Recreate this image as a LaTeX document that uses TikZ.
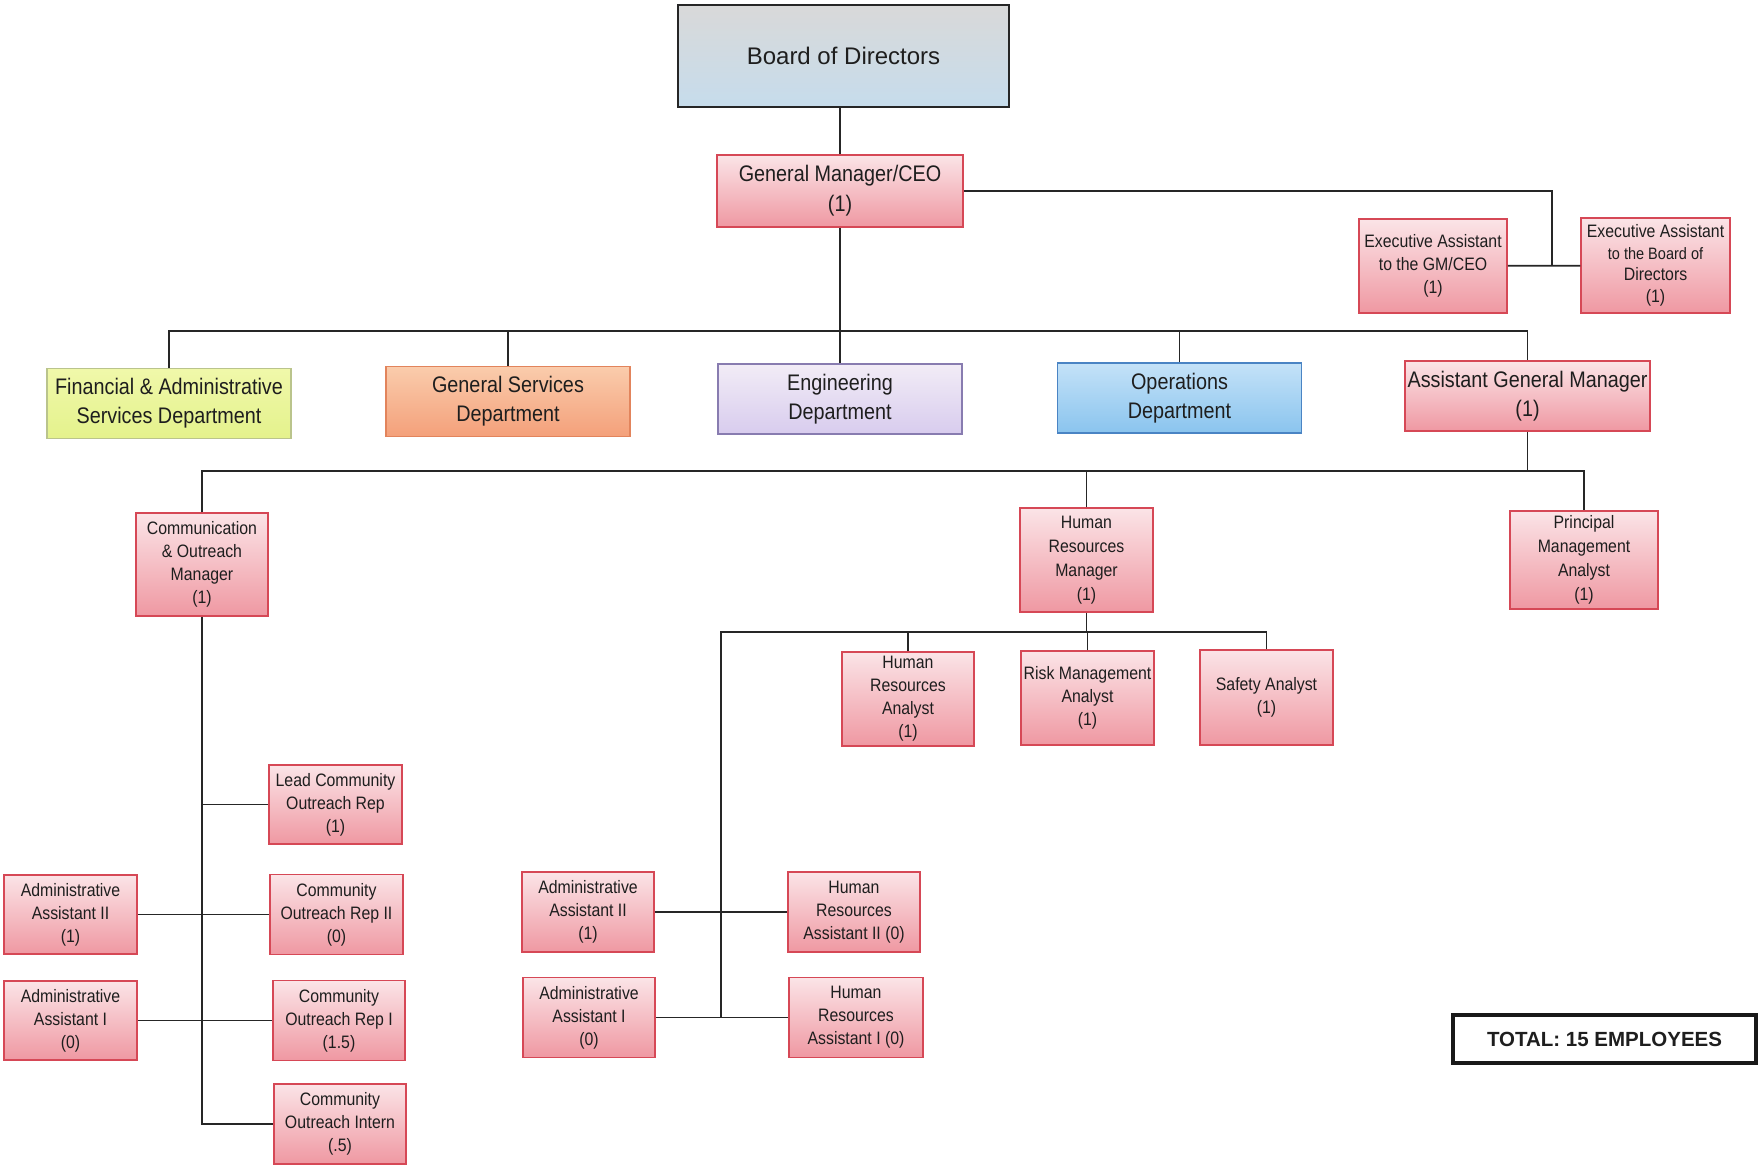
\documentclass[tikz,border=0pt]{standalone}
\usepackage{fontspec}
\setmainfont{Liberation Sans}[FakeStretch=0.88]
\newfontfamily\widefont{Liberation Sans}
\definecolor{boxtop}{RGB}{251,228,231}
\definecolor{boxbot}{RGB}{239,152,162}
\definecolor{boxline}{RGB}{214,72,86}
\definecolor{inktxt}{RGB}{30,30,30}
\tikzset{
  postbox/.style={draw=boxline, line width=1.5pt, top color=boxtop, bottom color=boxbot, align=center, inner sep=0pt, text=inktxt},
  smallbox/.style={postbox, minimum width=132pt, font=\fontsize{18}{23}\selectfont},
  deptbox/.style={line width=1.5pt, align=center, inner sep=0pt, minimum width=244pt, minimum height=70pt, text=inktxt, font=\fontsize{22.5}{29}\selectfont},
  link/.style={line width=1.8pt, black!85}
}
\begin{document}
\begin{tikzpicture}[x=1pt,y=-1pt]
\useasboundingbox[fill=white] (0,0) rectangle (1760,1165);
\node [draw=black!85, line width=2.5pt, top color=black!15, bottom color={rgb,255:red,198;green,220;blue,236}, minimum width=331pt, minimum height=102pt, text=inktxt, font=\widefont\fontsize{24}{29}\selectfont] (board) at (843.5,56) {Board of Directors};
\node [postbox, minimum width=246pt, minimum height=72pt, font=\fontsize{22.5}{30}\selectfont] (gm) at (840,191) {General Manager/CEO\\(1)};
\node [smallbox, minimum width=148pt, minimum height=94pt] (exgm) at (1433,266) {Executive Assistant\\to the GM/CEO\\(1)};
\node [smallbox, minimum width=149pt, minimum height=95pt, font=\fontsize{18}{21.5}\selectfont] (exbd) at (1655.5,265.5) {Executive Assistant\\\fontsize{16.5}{21.5}\selectfont to the Board of\\Directors\\(1)};
\node [deptbox, draw={rgb,255:red,186;green,196;blue,140}, top color={rgb,255:red,240;green,248;blue,170}, bottom color={rgb,255:red,228;green,242;blue,140}] (fin) at (169,403.5) {Financial \& Administrative\\Services Department};
\node [deptbox, draw={rgb,255:red,226;green,132;blue,92}, top color={rgb,255:red,250;green,204;blue,172}, bottom color={rgb,255:red,244;green,160;blue,122}] (gen) at (508,401.5) {General Services\\Department};
\node [deptbox, draw={rgb,255:red,136;green,124;blue,176}, top color={rgb,255:red,242;green,236;blue,246}, bottom color={rgb,255:red,216;green,204;blue,238}] (eng) at (840,399) {Engineering\\Department};
\node [deptbox, draw={rgb,255:red,74;green,132;blue,196}, top color={rgb,255:red,196;green,226;blue,248}, bottom color={rgb,255:red,138;green,196;blue,238}] (ops) at (1179.5,398) {Operations\\Department};
\node [postbox, minimum width=245pt, minimum height=70pt, font=\fontsize{22.5}{29}\selectfont] (agm) at (1527.5,396) {Assistant General Manager\\(1)};
\node [smallbox, minimum height=103pt] (com) at (202,564.5) {Communication\\\& Outreach\\Manager\\(1)};
\node [smallbox, minimum width=133pt, minimum height=104pt, font=\fontsize{18}{24}\selectfont] (hrm) at (1086.5,560) {Human\\Resources\\Manager\\(1)};
\node [smallbox, minimum width=148pt, minimum height=98pt, font=\fontsize{18}{24}\selectfont] (pma) at (1584,560) {Principal\\Management\\Analyst\\(1)};
\node [smallbox, minimum height=94pt] (hra) at (908,699) {Human\\Resources\\Analyst\\(1)};
\node [smallbox, minimum width=133pt, minimum height=94pt] (rma) at (1087.5,698) {Risk Management\\Analyst\\(1)};
\node [smallbox, minimum width=133pt, minimum height=95pt] (saf) at (1266.5,697.5) {Safety Analyst\\(1)};
\node [smallbox, minimum height=80pt] (aa2r) at (588,912) {Administrative\\Assistant II\\(1)};
\node [smallbox, minimum height=80pt] (aa1r) at (589,1017.5) {Administrative\\Assistant I\\(0)};
\node [smallbox, minimum height=80pt] (hra2) at (854,912) {Human\\Resources\\Assistant II (0)};
\node [smallbox, minimum width=134pt, minimum height=80pt] (hra1) at (856,1017.5) {Human\\Resources\\Assistant I (0)};
\node [smallbox, minimum width=133pt, minimum height=79pt] (lcor) at (335.5,804.5) {Lead Community\\Outreach Rep\\(1)};
\node [smallbox, minimum width=133pt, minimum height=79pt] (aa2l) at (70.5,914.5) {Administrative\\Assistant II\\(1)};
\node [smallbox, minimum width=133pt, minimum height=80pt] (cor2) at (336.5,914.5) {Community\\Outreach Rep II\\(0)};
\node [smallbox, minimum width=133pt, minimum height=79pt] (aa1l) at (70.5,1020.5) {Administrative\\Assistant I\\(0)};
\node [smallbox, minimum height=80pt] (cor1) at (339,1020.5) {Community\\Outreach Rep I\\(1.5)};
\node [smallbox, minimum height=80pt] (coi) at (340,1124) {Community\\Outreach Intern\\(.5)};
\node [draw=black!90, line width=3.5pt, fill=white, minimum width=303pt, minimum height=48pt, text=inktxt, font=\widefont\bfseries\fontsize{20.5}{24}\selectfont] (total) at (1604.5,1039) {TOTAL: 15 EMPLOYEES};
\coordinate (exj) at (1552,266);
\coordinate (db) at (840,331);
\coordinate (ab) at (1527.5,471);
\coordinate (hb) at (1086.5,632);
\coordinate (hrv) at (721,1018);
\draw [link] (board.south -| gm) -- (gm);
\draw [link] (gm.east) -| (exj); \draw [link] (exgm) -- (exbd);
\draw [link] (gm) -- (db); \draw [link] (fin.north) |- (db) -| (agm.north);
\foreach \n in {gen,eng,ops} \draw [link] (\n.north) -- (\n.north |- db);
\draw [link] (agm) -- (ab); \draw [link] (com.north) |- (ab) -| (pma.north);
\draw [link] (hrm.north) -- (hrm.north |- ab);
\draw [link] (hrm) -- (hb); \draw [link] (saf.north) |- (hrv |- hb) -- (hrv);
\foreach \n in {hra,rma} \draw [link] (\n.north) -- (\n.north |- hb);
\draw [link] (aa2r) -- (hra2); \draw [link] (aa1r) -- (hra1);
\draw [link] (com.south) |- (coi.west); \draw [link] (lcor.west) -- (lcor.west -| com.south);
\draw [link] (aa2l) -- (cor2); \draw [link] (aa1l) -- (cor1);
\end{tikzpicture}
\end{document}
